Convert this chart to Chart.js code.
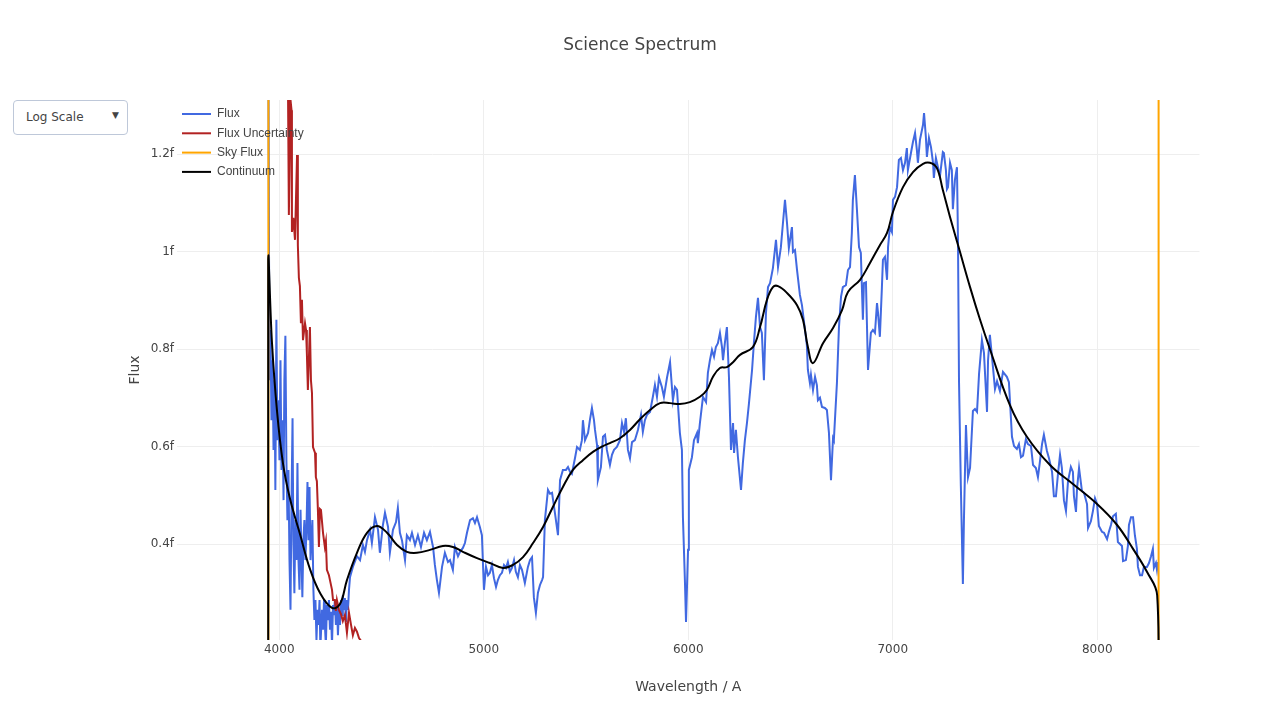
<!DOCTYPE html>
<html>
<head>
<meta charset="utf-8">
<title>Science Spectrum</title>
<script src="https://cdn.jsdelivr.net/npm/chart.js@4.4.1/dist/chart.umd.min.js"></script>
<style>
  body { margin: 0; background: #fff; font-family: 'DejaVu Sans', Verdana, sans-serif; }
  #wrap { position: relative; width: 1280px; height: 720px; }
  #scaleMenu {
    position: absolute; left: 13px; top: 100px; width: 115px; height: 35px;
    box-sizing: border-box; border: 1px solid #bec8d9; border-radius: 4px;
    background: #fff; color: #444; font-size: 12px;
  }
  #scaleMenu .label { position: absolute; left: 12px; top: 9px; }
  #scaleMenu .arrow { position: absolute; left: 98px; top: 9px; font-size: 9px; }
</style>
</head>
<body>
<div id="wrap">
  <canvas id="spectrumChart" width="1280" height="720"></canvas>
  <div id="scaleMenu"><span class="label">Log Scale</span><span class="arrow">▼</span></div>
</div>
<script>
// wavelength (A), flux in units of 1e-15 (plotly shows them with the "f" suffix)
const fluxData = [
  [3947,1.39],[3952,0.736],[3957,0.839],[3962,0.654],[3967,0.777],[3972,0.593],[3977,0.736],[3981,0.511],
  [3986,0.860],[3991,0.613],[3996,0.695],[4001,0.572],[4006,0.777],[4011,0.552],[4016,0.654],[4021,0.490],
  [4025,0.736],[4030,0.827],[4035,0.572],[4040,0.449],[4045,0.552],[4050,0.367],[4055,0.265],[4060,0.490],
  [4065,0.658],[4069,0.408],[4074,0.299],[4079,0.449],[4084,0.367],[4089,0.566],[4094,0.367],[4099,0.306],
  [4104,0.470],[4109,0.367],[4113,0.291],[4118,0.408],[4123,0.449],[4128,0.367],[4133,0.429],[4138,0.527],
  [4143,0.408],[4148,0.517],[4153,0.367],[4157,0.408],[4162,0.449],[4167,0.306],[4172,0.244],[4177,0.285],
  [4182,0.203],[4187,0.265],[4192,0.234],[4197,0.285],[4201,0.187],[4209,0.265],[4214,0.224],[4219,0.285],
  [4223,0.234],[4228,0.193],[4233,0.275],[4238,0.244],[4243,0.285],[4248,0.224],[4253,0.261],[4258,0.193],
  [4263,0.275],[4267,0.254],[4272,0.285],[4277,0.234],[4282,0.279],[4287,0.213],[4292,0.265],[4297,0.234],
  [4302,0.285],[4307,0.254],[4311,0.295],[4316,0.265],[4321,0.289],[4326,0.240],[4331,0.285],[4336,0.265],
  [4341,0.306],[4346,0.332],[4360,0.353],[4380,0.375],[4395,0.367],[4409,0.398],[4419,0.384],[4429,0.408],
  [4444,0.429],[4453,0.402],[4468,0.455],[4483,0.429],[4492,0.382],[4507,0.439],[4517,0.464],[4532,0.435],
  [4541,0.382],[4556,0.429],[4571,0.445],[4580,0.474],[4590,0.423],[4600,0.408],[4615,0.367],[4624,0.418],
  [4639,0.408],[4649,0.423],[4664,0.398],[4678,0.418],[4693,0.394],[4708,0.423],[4722,0.408],[4737,0.425],
  [4752,0.394],[4761,0.357],[4771,0.326],[4781,0.300],[4796,0.353],[4810,0.382],[4825,0.363],[4835,0.367],
  [4849,0.347],[4859,0.394],[4874,0.375],[4884,0.384],[4898,0.392],[4908,0.402],[4918,0.423],[4933,0.449],
  [4947,0.453],[4957,0.443],[4967,0.455],[4981,0.435],[4991,0.418],[5001,0.306],[5011,0.353],[5021,0.336],
  [5030,0.341],[5040,0.357],[5050,0.330],[5060,0.312],[5069,0.326],[5079,0.336],[5089,0.341],[5099,0.357],
  [5109,0.351],[5118,0.363],[5128,0.343],[5138,0.351],[5148,0.367],[5157,0.343],[5167,0.332],[5177,0.357],
  [5187,0.347],[5201,0.320],[5216,0.353],[5226,0.367],[5236,0.373],[5245,0.291],[5255,0.259],[5265,0.300],
  [5275,0.316],[5285,0.326],[5290,0.332],[5299,0.449],[5314,0.511],[5324,0.503],[5334,0.505],[5348,0.464],
  [5363,0.418],[5373,0.531],[5387,0.552],[5402,0.552],[5412,0.558],[5422,0.548],[5431,0.544],[5446,0.576],
  [5456,0.599],[5470,0.593],[5480,0.613],[5485,0.654],[5495,0.613],[5510,0.628],[5519,0.654],[5529,0.679],
  [5539,0.654],[5544,0.634],[5554,0.603],[5558,0.531],[5573,0.558],[5583,0.620],[5593,0.624],[5602,0.593],
  [5617,0.562],[5627,0.583],[5637,0.593],[5651,0.599],[5666,0.613],[5676,0.648],[5686,0.630],[5695,0.658],
  [5705,0.593],[5715,0.576],[5725,0.609],[5739,0.613],[5754,0.634],[5769,0.665],[5778,0.630],[5788,0.654],
  [5798,0.665],[5813,0.671],[5827,0.702],[5837,0.726],[5847,0.702],[5857,0.741],[5871,0.722],[5881,0.702],
  [5896,0.741],[5911,0.773],[5925,0.695],[5935,0.722],[5945,0.716],[5959,0.628],[5969,0.593],[5974,0.455],
  [5984,0.320],[5989,0.240],[5999,0.388],[6003,0.552],[6018,0.578],[6028,0.613],[6043,0.628],[6047,0.607],
  [6057,0.648],[6072,0.702],[6087,0.691],[6096,0.751],[6106,0.777],[6116,0.798],[6126,0.784],[6135,0.804],
  [6145,0.812],[6155,0.833],[6165,0.804],[6170,0.777],[6179,0.812],[6189,0.845],[6199,0.743],[6209,0.593],
  [6219,0.648],[6224,0.587],[6233,0.634],[6243,0.578],[6258,0.511],[6267,0.566],[6277,0.613],[6287,0.648],
  [6297,0.689],[6312,0.757],[6321,0.812],[6331,0.866],[6341,0.905],[6351,0.845],[6360,0.833],[6370,0.736],
  [6380,0.874],[6390,0.927],[6400,0.935],[6414,0.966],[6429,1.024],[6439,0.968],[6453,1.009],[6463,1.058],
  [6473,1.106],[6483,1.058],[6492,1.007],[6507,1.050],[6512,0.999],[6522,1.003],[6532,0.962],[6546,0.911],
  [6556,0.890],[6571,0.839],[6580,0.808],[6585,0.757],[6595,0.730],[6600,0.747],[6610,0.716],[6620,0.743],
  [6629,0.726],[6634,0.695],[6644,0.700],[6654,0.681],[6668,0.679],[6678,0.675],[6688,0.628],[6698,0.531],
  [6708,0.617],[6712,0.613],[6727,0.730],[6737,0.845],[6747,0.907],[6756,0.927],[6771,0.931],[6781,0.962],
  [6791,0.968],[6800,1.038],[6805,1.106],[6815,1.157],[6825,1.085],[6835,1.009],[6844,0.997],[6854,0.860],
  [6859,0.935],[6869,0.937],[6879,0.757],[6893,0.833],[6903,0.839],[6913,0.833],[6923,0.894],[6928,0.874],
  [6937,0.825],[6947,0.927],[6952,0.983],[6962,0.989],[6972,0.942],[6977,1.009],[6986,1.050],[6996,1.040],
  [7001,1.106],[7011,1.112],[7021,1.132],[7030,1.188],[7040,1.192],[7050,1.167],[7060,1.182],[7069,1.212],
  [7074,1.167],[7089,1.202],[7099,1.225],[7109,1.243],[7118,1.208],[7123,1.182],[7133,1.229],[7148,1.260],
  [7153,1.284],[7162,1.235],[7167,1.194],[7177,1.233],[7187,1.214],[7197,1.182],[7201,1.151],[7211,1.192],
  [7221,1.173],[7231,1.155],[7245,1.204],[7250,1.202],[7260,1.167],[7265,1.128],[7270,1.132],[7280,1.182],
  [7289,1.167],[7294,1.087],[7304,1.147],[7314,1.173],[7319,1.024],[7324,0.734],[7333,0.519],[7343,0.318],
  [7348,0.447],[7358,0.644],[7368,0.537],[7378,0.556],[7392,0.673],[7402,0.677],[7412,0.671],[7422,0.749],
  [7436,0.818],[7446,0.792],[7461,0.671],[7466,0.777],[7475,0.829],[7490,0.763],[7500,0.718],[7510,0.734],
  [7524,0.714],[7539,0.753],[7558,0.743],[7568,0.732],[7583,0.620],[7593,0.601],[7607,0.595],[7617,0.605],
  [7627,0.578],[7637,0.581],[7651,0.615],[7661,0.605],[7676,0.601],[7686,0.562],[7700,0.556],[7710,0.537],
  [7720,0.570],[7730,0.605],[7739,0.624],[7754,0.591],[7764,0.576],[7779,0.548],[7788,0.498],[7798,0.498],
  [7808,0.544],[7818,0.583],[7827,0.556],[7837,0.490],[7847,0.468],[7857,0.529],[7871,0.558],[7881,0.548],
  [7886,0.498],[7896,0.466],[7901,0.513],[7911,0.556],[7925,0.509],[7935,0.505],[7950,0.482],[7955,0.433],
  [7969,0.447],[7979,0.468],[7989,0.494],[7999,0.482],[8008,0.437],[8023,0.425],[8033,0.423],[8048,0.410],
  [8057,0.425],[8067,0.439],[8077,0.457],[8091,0.462],[8101,0.404],[8111,0.400],[8121,0.396],[8126,0.365],
  [8140,0.367],[8150,0.396],[8155,0.439],[8165,0.455],[8175,0.455],[8184,0.418],[8194,0.390],[8199,0.353],
  [8209,0.336],[8219,0.336],[8228,0.353],[8243,0.353],[8253,0.361],[8263,0.375],[8272,0.390],[8277,0.351],
  [8287,0.361],[8292,0.347],[8297,0.363]
];

const uncertaintyData = [
  [3945,2.3],[4043,1.321],[4047,1.075],[4055,1.311],[4060,1.290],[4062,1.040],[4069,1.069],[4077,1.024],
  [4087,1.198],[4091,1.013],[4096,0.946],[4101,0.929],[4106,0.853],[4111,0.901],[4116,0.818],[4126,0.853],
  [4131,0.839],[4135,0.792],[4140,0.716],[4150,0.845],[4155,0.736],[4160,0.710],[4165,0.599],[4175,0.587],
  [4179,0.537],[4184,0.529],[4189,0.470],[4194,0.394],[4199,0.472],[4204,0.470],[4214,0.423],[4223,0.394],
  [4228,0.406],[4233,0.347],[4243,0.336],[4248,0.326],[4258,0.306],[4263,0.285],[4272,0.285],[4277,0.263],
  [4282,0.285],[4292,0.265],[4302,0.256],[4311,0.242],[4321,0.254],[4331,0.218],[4341,0.259],[4351,0.234],
  [4360,0.213],[4370,0.228],[4380,0.220],[4390,0.207],[4404,0.199],[4450,0.17],[4600,0.14],[5000,0.11],
  [6000,0.08],[7000,0.07],[8000,0.08],[8297,0.1]
];

const skyData = [[3946,60],[3947,0.05],[8299,0.05],[8300,60]];

const continuumData = [
  [3946,0],[3946,0.983],[3964,0.816],[3989,0.673],[4018,0.566],[4052,0.494],[4101,0.421],[4150,0.349],
  [4199,0.300],[4258,0.269],[4297,0.277],[4331,0.326],[4380,0.382],[4429,0.423],[4478,0.437],[4527,0.423],
  [4576,0.398],[4624,0.384],[4673,0.382],[4737,0.388],[4800,0.396],[4849,0.394],[4898,0.384],[4967,0.371],
  [5030,0.361],[5094,0.351],[5143,0.357],[5192,0.373],[5241,0.402],[5290,0.435],[5338,0.476],[5387,0.517],
  [5436,0.552],[5485,0.572],[5534,0.589],[5583,0.601],[5617,0.607],[5666,0.617],[5715,0.634],[5764,0.656],
  [5813,0.675],[5862,0.689],[5911,0.689],[5959,0.687],[6008,0.691],[6057,0.702],[6091,0.716],[6121,0.743],
  [6155,0.761],[6189,0.763],[6219,0.773],[6253,0.788],[6316,0.804],[6351,0.845],[6385,0.901],[6414,0.927],
  [6439,0.929],[6483,0.915],[6532,0.890],[6561,0.860],[6585,0.804],[6610,0.771],[6659,0.812],[6708,0.843],
  [6752,0.880],[6781,0.917],[6840,0.942],[6888,0.976],[6937,1.013],[6972,1.038],[7001,1.081],[7050,1.132],
  [7099,1.163],[7148,1.180],[7182,1.182],[7216,1.171],[7245,1.126],[7280,1.071],[7329,0.999],[7378,0.927],
  [7427,0.860],[7475,0.800],[7573,0.685],[7656,0.620],[7769,0.562],[7881,0.523],[7999,0.482],[8097,0.439],
  [8175,0.390],[8243,0.343],[8293,0.295],[8294,0]
];

const xTicks = [4000, 5000, 6000, 7000, 8000];
const yTicks = [0.4, 0.6, 0.8, 1.0, 1.2];
const xRange = [3500, 8500];
const yRange = [0.2031, 1.3108];

Chart.defaults.font.family = "'DejaVu Sans', Verdana, sans-serif";
Chart.defaults.color = '#444';

function toPoints(pairs) {
  return pairs.map(([x, y]) => ({ x, y }));
}

function lineDataset(label, pairs, color, order, tension) {
  return {
    label: label,
    data: toPoints(pairs),
    borderColor: color,
    backgroundColor: color,
    borderWidth: 2,
    pointRadius: 0,
    tension: tension || 0,
    fill: false,
    order: order
  };
}

// plotly-style legend sitting in the top-left corner of the plot
const insideLegend = {
  id: 'insideLegend',
  afterDatasetsDraw(chart) {
    const { ctx, chartArea } = chart;
    ctx.save();
    ctx.font = "12px 'Liberation Sans', Arial, sans-serif";
    ctx.textBaseline = 'middle';
    ctx.textAlign = 'left';
    chart.data.datasets.forEach((ds, i) => {
      const y = chartArea.top + 14 + i * 19.3;
      ctx.strokeStyle = ds.borderColor;
      ctx.lineWidth = 2;
      ctx.beginPath();
      ctx.moveTo(chartArea.left + 5, y);
      ctx.lineTo(chartArea.left + 34, y);
      ctx.stroke();
      ctx.fillStyle = '#444';
      ctx.fillText(ds.label, chartArea.left + 40, y);
    });
    ctx.restore();
  }
};

new Chart(document.getElementById('spectrumChart'), {
  type: 'line',
  data: {
    datasets: [
      lineDataset('Flux', fluxData, '#4169e1', 4),
      lineDataset('Flux Uncertainty', uncertaintyData, '#b22222', 3),
      lineDataset('Sky Flux', skyData, '#ffa500', 2),
      lineDataset('Continuum', continuumData, '#000000', 1, 0.4)
    ]
  },
  plugins: [insideLegend],
  options: {
    responsive: false,
    devicePixelRatio: 1,
    animation: false,
    layout: { padding: { left: 80.5, right: 80.5, top: 0, bottom: 20 } },
    plugins: {
      title: {
        display: true,
        text: 'Science Spectrum',
        color: '#444',
        font: { size: 17, weight: 'normal' },
        padding: { top: 35.8, bottom: 43.8 }
      },
      legend: { display: false },
      tooltip: { enabled: false }
    },
    scales: {
      x: {
        type: 'linear',
        min: xRange[0],
        max: xRange[1],
        afterBuildTicks: (scale) => { scale.ticks = xTicks.map((v) => ({ value: v })); },
        afterFit: (scale) => { scale.height = 60; },
        grid: { color: '#eeeeee', drawTicks: false },
        border: { display: false },
        ticks: { padding: 3, font: { size: 12 }, callback: (v) => String(v) },
        title: { display: true, text: 'Wavelength / A', font: { size: 14 }, color: '#444' }
      },
      y: {
        type: 'linear',
        min: yRange[0],
        max: yRange[1],
        afterBuildTicks: (scale) => { scale.ticks = yTicks.map((v) => ({ value: v })); },
        afterFit: (scale) => { scale.width = 96.5; },
        grid: { color: '#eeeeee', drawTicks: false },
        border: { display: false },
        ticks: { padding: 3, font: { size: 12 }, callback: (v) => `${Math.round(v * 10) / 10}f` },
        title: {
          display: true, text: 'Flux', font: { size: 14 }, color: '#444',
          padding: { top: 46, bottom: 4 }
        }
      }
    }
  }
});
</script>
</body>
</html>
